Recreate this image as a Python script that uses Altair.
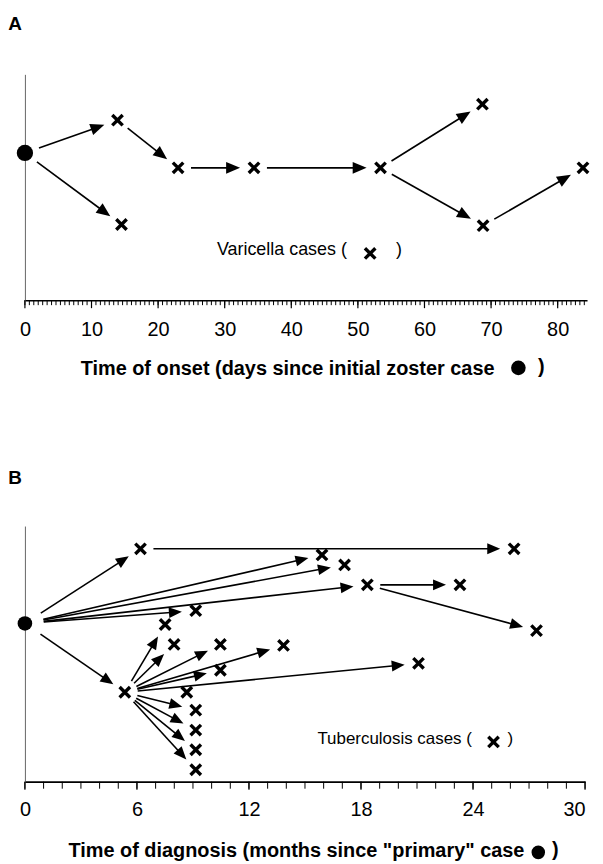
import math
import altair as alt
import pandas as pd

FONT = "Liberation Sans"

# ---------------- Panel A: varicella outbreak ----------------
a_case_day = [0, 13.9, 14.5, 23.0, 34.4, 53.4, 68.7, 68.8, 83.8]
a_case_level = [65.2, 79.7, 33.5, 58.6, 58.6, 58.6, 86.8, 33.0, 58.6]
a_case_type = ["zoster", "varicella", "varicella", "varicella", "varicella",
               "varicella", "varicella", "varicella", "varicella"]
a_link_from = [0, 0, 1, 3, 4, 5, 5, 7]
a_link_to = [1, 2, 3, 4, 5, 6, 7, 8]
a_tick_labels = [0, 10, 20, 30, 40, 50, 60, 70, 80]
a_minor_ticks = [round(i * 2 / 3, 4) for i in range(0, 127)]
a_panel = "A"
a_title = "Time of onset (days since initial zoster case"
a_legend = "Varicella cases ("

# ---------------- Panel B: tuberculosis outbreak ----------------
b_case_month = [0, 6.19, 15.91, 17.12, 18.34, 23.3, 26.2, 9.15, 7.51, 27.4, 7.99,
                10.47, 13.85, 10.47, 21.08, 5.35, 8.67, 9.15, 9.15, 9.15, 9.15]
b_case_level = [61.9, 91.1, 88.7, 84.8, 77.0, 77.0, 91.1, 66.9, 61.5, 59.1, 53.7,
                53.7, 53.3, 43.6, 46.3, 35.0, 35.0, 28.0, 20.2, 12.5, 4.7]
b_case_type = ["primary"] + ["tuberculosis"] * 20
b_link_from = [0, 0, 0, 0, 0, 0, 1, 4, 4, 15, 15, 15, 15, 15, 15, 15, 15, 15, 15]
b_link_to = [1, 2, 3, 4, 7, 15, 6, 5, 9, 8, 10, 11, 12, 13, 14, 17, 18, 19, 20]
b_tick_labels = [0, 6, 12, 18, 24, 30]
b_minor_ticks = list(range(0, 31))
b_panel = "B"
b_title = 'Time of diagnosis (months since "primary" case'
b_legend = "Tuberculosis cases ("

CROSS = "M-1,-1L1,1M1,-1L-1,1"
HEAD = "M0,0L-0.42,1L0.42,1Z"


def arrow_frame(xs, ys, src, tgt, kx, ky, H, gap_root, gap_case, gap_tip, head):
    rows = []
    for s, t in zip(src, tgt):
        x0, y0 = xs[s] * kx, H - ys[s] * ky
        x1, y1 = xs[t] * kx, H - ys[t] * ky
        dx, dy = x1 - x0, y1 - y0
        d = math.hypot(dx, dy)
        ux, uy = dx / d, dy / d
        g = gap_root if s == 0 else gap_case
        sx, sy = x0 + g * ux, y0 + g * uy
        tx, ty = x1 - gap_tip * ux, y1 - gap_tip * uy
        ex, ey = tx - 0.6 * head * ux, ty - 0.6 * head * uy
        rows.append({
            "x": sx / kx, "y": (H - sy) / ky,
            "x2": ex / kx, "y2": (H - ey) / ky,
            "hx": tx / kx, "hy": (H - ty) / ky,
            "angle": math.degrees(math.atan2(ux, -uy)) % 360,
        })
    return pd.DataFrame(rows)


def text_layer(s, x, y, size, weight="normal", align="center"):
    return alt.Chart(pd.DataFrame({"s": [s]})).mark_text(
        font=FONT, fontSize=size, fontWeight=weight, align=align,
        baseline="middle", color="black"
    ).encode(text="s:N", x=alt.value(x), y=alt.value(y))


def symbol_layer(x, y, shape, size, filled, stroke_width=0):
    return alt.Chart(pd.DataFrame({"s": [0]})).mark_point(
        shape=shape, size=size, filled=filled, color="black", opacity=1,
        strokeWidth=stroke_width
    ).encode(x=alt.value(x), y=alt.value(y))


def panel(xs, ys, types, src, tgt, majors, minors, major_step, W, H, xmax,
          root_size, head, gap_root, gap_tip, minor_len, major_len, domain_w,
          label_pad, panel_label, panel_xy, title, title_size, title_xy,
          title_dot, title_dot_size, title_paren, legend, legend_size,
          legend_xy, legend_cross, legend_paren):
    kx = W / xmax
    ky = H / 100.0
    last = max(majors)
    xscale = alt.Scale(domain=[0, xmax], nice=False, zero=False)
    yscale = alt.Scale(domain=[0, 100], nice=False, zero=False)
    xaxis = alt.Axis(values=majors, labelFlush=False, labelOverlap=False,
                     labelAlign={"condition": {"test": f"datum.value >= {last} && {last} >= {xmax} - 0.01",
                                               "value": "right"},
                                 "value": "center"},
                     ticks=False, tickSize=0, grid=False, title=None,
                     domainColor="black", domainWidth=domain_w, labelFont=FONT,
                     labelFontSize=20, labelColor="black",
                     labelPadding=label_pad, format="d")
    yaxis = alt.Axis(labels=False, ticks=False, tickSize=0, grid=False,
                     title=None, domainColor="#666666", domainWidth=1)

    def X(f):
        return alt.X(f, scale=xscale, axis=xaxis)

    def Y(f):
        return alt.Y(f, scale=yscale, axis=yaxis)

    cases = pd.DataFrame({"t": xs, "v": ys, "kind": types})
    arrows = arrow_frame(xs, ys, src, tgt, kx, ky, H, gap_root, 13, gap_tip, head)
    minor_df = pd.DataFrame({"t": minors})
    major_df = pd.DataFrame({"t": [m for m in minors
                                   if abs(m / major_step - round(m / major_step)) < 1e-6]})

    crosses = alt.Chart(cases).transform_filter(
        "datum.kind != 'zoster' && datum.kind != 'primary'"
    ).mark_point(shape=CROSS, size=110, filled=False, color="black",
                 opacity=1, strokeWidth=3.4).encode(x=X("t:Q"), y=Y("v:Q"))
    root = alt.Chart(cases).transform_filter(
        "datum.kind == 'zoster' || datum.kind == 'primary'"
    ).mark_point(shape="circle", size=root_size, filled=True, color="black",
                 opacity=1, strokeWidth=0).encode(x=X("t:Q"), y=Y("v:Q"))
    minor_ticks = alt.Chart(minor_df).mark_rule(color="black", strokeWidth=1).encode(
        x=X("t:Q"), y=alt.value(H), y2=alt.value(H + minor_len))
    major_ticks = alt.Chart(major_df).mark_rule(color="black", strokeWidth=1.2).encode(
        x=X("t:Q"), y=alt.value(H), y2=alt.value(H + major_len))
    shafts = alt.Chart(arrows).mark_rule(color="black", strokeWidth=1.6).encode(
        x=X("x:Q"), y=Y("y:Q"), x2="x2:Q", y2="y2:Q")
    heads = alt.Chart(arrows).mark_point(
        shape=HEAD, size=(2 * head) ** 2, filled=True, color="black",
        opacity=1, strokeWidth=0
    ).encode(x=X("hx:Q"), y=Y("hy:Q"), angle=alt.Angle("angle:Q", scale=None))

    layers = [
        crosses, minor_ticks, major_ticks, shafts, heads, root,
        text_layer(panel_label, panel_xy[0], panel_xy[1], 19, "bold"),
        text_layer(title, title_xy[0], title_xy[1], title_size, "bold", "right"),
        symbol_layer(title_dot[0], title_dot[1], "circle", title_dot_size, True),
        text_layer(")", title_paren[0], title_paren[1], title_size, "bold"),
        text_layer(legend, legend_xy[0], legend_xy[1], legend_size, "normal", "left"),
        symbol_layer(legend_cross[0], legend_cross[1], CROSS, 110, False, 3.4),
        text_layer(")", legend_paren[0], legend_paren[1], legend_size),
    ]
    return alt.layer(*layers).properties(width=W, height=H)


chart_a = panel(
    a_case_day, a_case_level, a_case_type, a_link_from, a_link_to,
    a_tick_labels, a_minor_ticks, 10, 565, 227, 84.41,
    root_size=270, head=14, gap_root=15, gap_tip=14, minor_len=5, major_len=8,
    domain_w=1.5, label_pad=19, panel_label=a_panel, panel_xy=(-10, -51),
    title=a_title, title_size=20, title_xy=(472, 296), title_dot=(496, 295),
    title_dot_size=215, title_paren=(519, 294), legend=a_legend, legend_size=18,
    legend_xy=(193, 177), legend_cross=(347, 180), legend_paren=(376, 177),
)

chart_b = panel(
    b_case_month, b_case_level, b_case_type, b_link_from, b_link_to,
    b_tick_labels, b_minor_ticks, 6, 563, 257, 30,
    root_size=215, head=13, gap_root=19, gap_tip=14, minor_len=7, major_len=8,
    domain_w=1.8, label_pad=18, panel_label=b_panel, panel_xy=(-10, -48),
    title=b_title, title_size=20, title_xy=(502, 327), title_dot=(516, 328),
    title_dot_size=185, title_paren=(533, 326), legend=b_legend, legend_size=17,
    legend_xy=(294, 214), legend_cross=(471, 217), legend_paren=(488, 214),
)

chart = alt.vconcat(chart_a, chart_b, spacing=91).properties(
    padding={"left": 0, "top": 4.5, "right": 0, "bottom": 0}
).configure_view(stroke=None)

chart.save("out.html", embed_options={"renderer": "svg", "actions": False})
